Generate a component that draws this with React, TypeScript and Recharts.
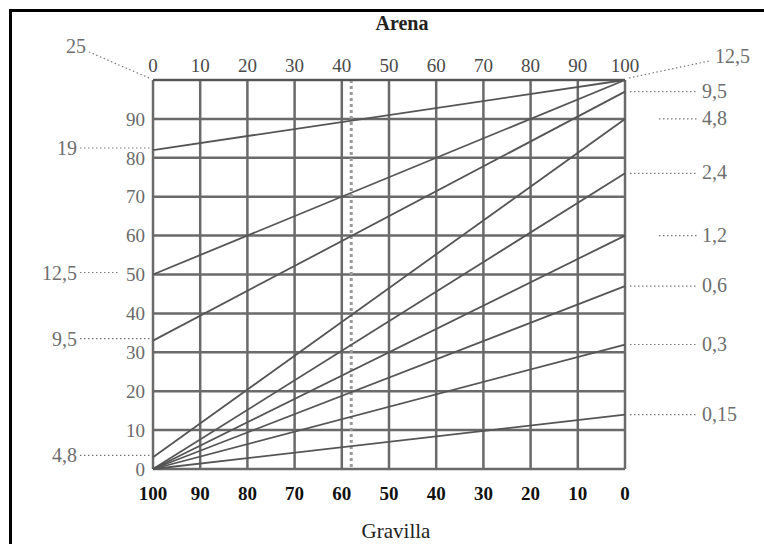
import React from 'react';
import { LineChart, Line, XAxis, YAxis, CartesianGrid, ReferenceLine } from 'recharts';

// Sieve sizes (mm) and % passing for gravel (0 % sand) and sand (100 % sand)
const sieves = ['25', '19', '12,5', '9,5', '4,8', '2,4', '1,2', '0,6', '0,3', '0,15'];
const gravelPassing = [100, 82, 50, 33, 3, 0, 0, 0, 0, 0];
const sandPassing = [100, 100, 100, 97, 90, 76, 60, 47, 32, 14];
const showGravelLabel = [true, true, true, true, true, false, false, false, false, false];
const showSandLabel = [false, false, true, true, true, true, true, true, true, true];
const percentTicks = [0, 10, 20, 30, 40, 50, 60, 70, 80, 90, 100];
const passingTicks = [0, 10, 20, 30, 40, 50, 60, 70, 80, 90];
const sandMarker = 42;
const topTitle = 'Arena';
const bottomTitle = 'Gravilla';

const rows = [0, 100].map((pct, r) => {
  const row: Record<string, number> = { pct };
  sieves.forEach((_, i) => {
    row['s' + i] = r === 0 ? gravelPassing[i] : sandPassing[i];
  });
  return row;
});

const FONT = '"Liberation Serif", "DejaVu Serif", serif';
const LABEL_COLOR = '#6e6e6e';
const lead = { stroke: '#7a7a7a', strokeWidth: 1.2, strokeDasharray: '1.5 2.5' };

const nearTick = (v: number) => Math.abs(v - Math.round(v / 10) * 10) < 1.5;

const makeLabel = (i: number) => (props: any) => {
  const { x, y, index } = props;
  if (x == null || y == null) return null;
  const txt = { fontFamily: FONT, fontSize: 20, fill: LABEL_COLOR } as any;
  if (index === 0 && showGravelLabel[i]) {
    if (gravelPassing[i] >= 100) {
      return (
        <g key={'l' + i}>
          <line x1={x - 4} y1={y - 2} x2={x - 64} y2={y - 28} {...lead} />
          <text x={x - 67} y={y - 27} textAnchor="end" {...txt}>{sieves[i]}</text>
        </g>
      );
    }
    const endX = nearTick(gravelPassing[i]) ? x - 34 : x - 3;
    return (
      <g key={'l' + i}>
        <line x1={x - 73} y1={y - 2} x2={endX} y2={y - 2} {...lead} />
        <text x={x - 76} y={y + 5} textAnchor="end" {...txt}>{sieves[i]}</text>
      </g>
    );
  }
  if (index === 1 && showSandLabel[i]) {
    if (sandPassing[i] >= 100) {
      return (
        <g key={'r' + i}>
          <line x1={x + 4} y1={y - 2} x2={x + 84} y2={y - 19} {...lead} />
          <text x={x + 90} y={y - 17} textAnchor="start" {...txt}>{sieves[i]}</text>
        </g>
      );
    }
    const startX = nearTick(sandPassing[i]) ? x + 34 : x + 5;
    return (
      <g key={'r' + i}>
        <line x1={startX} y1={y} x2={x + 73} y2={y} {...lead} />
        <text x={x + 77} y={y + 6} textAnchor="start" {...txt}>{sieves[i]}</text>
      </g>
    );
  }
  return null;
};

export default function App() {
  return (
    <div style={{ position: 'absolute', left: 0, top: 0, width: 764, height: 544, background: '#fff', overflow: 'hidden' }}>
      <div style={{ position: 'absolute', left: 9, top: 9, width: 800, height: 600, borderLeft: '3px solid #000', borderTop: '3px solid #000' }} />
      <div style={{ position: 'absolute', left: 0, top: 0 }}>
        <LineChart width={764} height={544} data={rows} margin={{ top: 50, right: 79, bottom: 45, left: 93 }}>
          <CartesianGrid xAxisId="top" yAxisId="left" stroke="#6a6a6a" strokeWidth={2.5} horizontalValues={percentTicks} verticalValues={percentTicks} />
          <XAxis
            xAxisId="top"
            orientation="top"
            dataKey="pct"
            type="number"
            domain={[0, 100]}
            ticks={percentTicks}
            axisLine={false}
            tickLine={false}
            tick={{ fontFamily: FONT, fontSize: 19, fill: '#4a4a4a' }}
            height={30}
            label={{
              content: ({ viewBox }: any) => (
                <text x={viewBox.x + viewBox.width / 2 + 13} y={viewBox.y - 20} textAnchor="middle" fontFamily={FONT} fontSize={20} fontWeight="bold" fill="#222">
                  {topTitle}
                </text>
              ),
            }}
          />
          <XAxis
            xAxisId="bottom"
            orientation="bottom"
            dataKey="pct"
            type="number"
            domain={[0, 100]}
            reversed
            ticks={percentTicks}
            axisLine={false}
            tickLine={false}
            tickMargin={12}
            tick={{ fontFamily: FONT, fontSize: 19, fontWeight: 'bold', fill: '#111' }}
            height={30}
            label={{
              content: ({ viewBox }: any) => (
                <text x={viewBox.x + viewBox.width / 2 + 7} y={viewBox.y + 69} textAnchor="middle" fontFamily={FONT} fontSize={21} fill="#222">
                  {bottomTitle}
                </text>
              ),
            }}
          />
          <YAxis
            yAxisId="left"
            orientation="left"
            type="number"
            domain={[0, 100]}
            ticks={passingTicks}
            axisLine={false}
            tickLine={false}
            width={60}
            tick={{ fontFamily: FONT, fontSize: 19, fill: '#6a6a6a' }}
          />
          <YAxis
            yAxisId="right"
            orientation="right"
            type="number"
            domain={[0, 100]}
            ticks={passingTicks}
            axisLine={false}
            tickLine={false}
            width={60}
            tick={{ fontFamily: FONT, fontSize: 19, fill: '#6a6a6a' }}
          />
          <ReferenceLine xAxisId="top" yAxisId="left" x={sandMarker} stroke="#9a9a9a" strokeWidth={3} strokeDasharray="3 3" />
          {sieves.map((s, i) => (
            <Line
              key={s}
              xAxisId="top"
              yAxisId="left"
              dataKey={'s' + i}
              type="linear"
              stroke="#555"
              strokeWidth={1.8}
              dot={false}
              isAnimationActive={false}
              label={makeLabel(i)}
            />
          ))}
        </LineChart>
      </div>
    </div>
  );
}
